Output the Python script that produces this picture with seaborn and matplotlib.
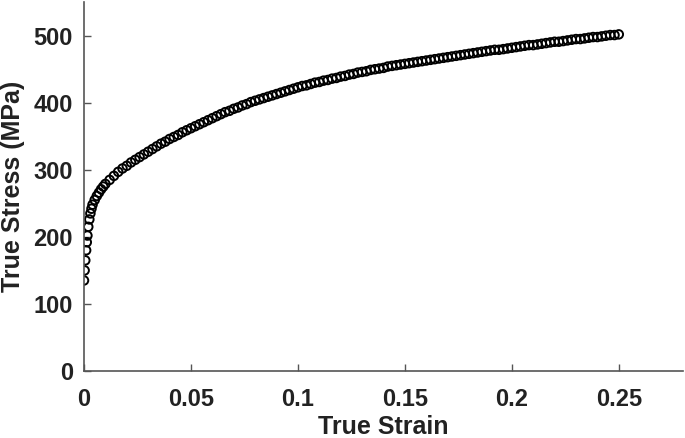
import seaborn as sns
import matplotlib.pyplot as plt
import matplotlib.ticker as mticker
import pandas as pd

# Values
strain = [0, 0.0003, 0.0006, 0.001, 0.0013, 0.0016, 0.002, 0.0025, 0.003, 0.0035,
          0.004, 0.005, 0.006, 0.007, 0.008, 0.009, 0.010,
          0.012, 0.014, 0.016, 0.018, 0.020, 0.022, 0.024, 0.026, 0.028, 0.030,
          0.032, 0.034, 0.036, 0.038, 0.040, 0.042, 0.044, 0.046, 0.048, 0.050,
          0.052, 0.054, 0.056, 0.058, 0.060, 0.062, 0.064, 0.066, 0.068, 0.070,
          0.072, 0.074, 0.076, 0.078, 0.080, 0.082, 0.084, 0.086, 0.088, 0.090,
          0.092, 0.094, 0.096, 0.098, 0.100, 0.102, 0.104, 0.106, 0.108, 0.110,
          0.112, 0.114, 0.116, 0.118, 0.120, 0.122, 0.124, 0.126, 0.128, 0.130,
          0.132, 0.134, 0.136, 0.138, 0.140, 0.142, 0.144, 0.146, 0.148, 0.150,
          0.152, 0.154, 0.156, 0.158, 0.160, 0.162, 0.164, 0.166, 0.168, 0.170,
          0.172, 0.174, 0.176, 0.178, 0.180, 0.182, 0.184, 0.186, 0.188, 0.190,
          0.192, 0.194, 0.196, 0.198, 0.200, 0.202, 0.204, 0.206, 0.208, 0.210,
          0.212, 0.214, 0.216, 0.218, 0.220, 0.222, 0.224, 0.226, 0.228, 0.230,
          0.232, 0.234, 0.236, 0.238, 0.240, 0.242, 0.244, 0.246, 0.248, 0.250]
stress = [135, 150, 165, 180, 192, 202, 215, 226, 235, 242,
          248, 255, 261, 266, 271, 275, 279,
          285, 291, 297, 302, 306, 311, 315, 319, 323, 327,
          331, 335, 339, 342, 346, 349, 352, 356, 359, 362,
          365, 368, 371, 374, 377, 380, 383, 386, 388, 391,
          393, 396, 398, 401, 403, 405, 407, 409, 411, 413,
          415, 417, 419, 421, 423, 425, 426, 428, 430, 431,
          433, 434, 436, 437, 439, 440, 442, 443, 445, 446,
          447, 449, 450, 451, 452, 454, 455, 456, 457, 458,
          459, 460, 461, 462, 463, 464, 465, 466, 467, 468,
          469, 470, 471, 472, 473, 474, 475, 476, 477, 478,
          479, 479, 480, 481, 482, 483, 484, 485, 486, 486,
          487, 488, 489, 490, 491, 491, 492, 493, 494, 495,
          495, 496, 497, 498, 498, 499, 500, 501, 501, 502]

xticks = [0, 0.05, 0.1, 0.15, 0.2, 0.25]
yticks = [0, 100, 200, 300, 400, 500]

df = pd.DataFrame({"strain": strain, "stress": stress})

sns.set_style("ticks")
plt.rcParams['font.family'] = ['Liberation Sans', 'DejaVu Sans']

fig = plt.figure(figsize=(6.85, 4.38), dpi=100)
ax = fig.add_axes([0.1226, 0.153, 0.8744, 0.842])

sns.scatterplot(data=df, x="strain", y="stress", ax=ax, marker="o", s=38,
                facecolors="none", edgecolor="black", linewidth=1.4)

ax.set_xlim(0, 0.28)
ax.set_ylim(0, 550)
ax.set_xticks(xticks)
ax.set_yticks(yticks)
ax.xaxis.set_major_formatter(mticker.FormatStrFormatter('%g'))
ax.yaxis.set_major_formatter(mticker.FormatStrFormatter('%g'))

for s in ["top", "right"]:
    ax.spines[s].set_visible(False)
for s in ["left", "bottom"]:
    ax.spines[s].set_color("#555555")
    ax.spines[s].set_linewidth(1.2)

ax.tick_params(direction="in", length=5, width=1, color="#555555",
               labelsize=17, labelcolor="#222222")
ax.tick_params(axis="y", pad=8)
ax.tick_params(axis="x", pad=12)
for lab in ax.get_xticklabels() + ax.get_yticklabels():
    lab.set_fontweight("bold")

ax.set_xlabel("True Strain", fontsize=18, fontweight="bold", color="#222222", labelpad=3)
ax.set_ylabel("True Stress (MPa)", fontsize=18, fontweight="bold", color="#222222", labelpad=6)

fig.savefig("out.png", dpi=100)
